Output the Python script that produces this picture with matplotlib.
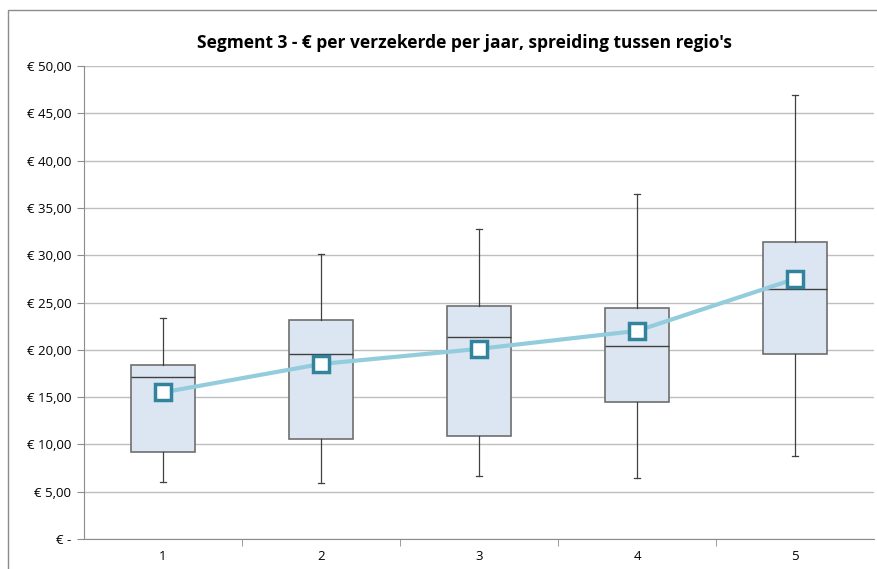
import matplotlib.pyplot as plt
from matplotlib.ticker import FuncFormatter
from matplotlib.patches import Rectangle

plt.rcParams['font.family'] = ['Open Sans', 'DejaVu Sans']

regions = [1, 2, 3, 4, 5]
whisker_low = [6.0, 5.9, 6.7, 6.5, 8.8]
q1 = [9.2, 10.6, 10.9, 14.5, 19.6]
median = [17.1, 19.6, 21.4, 20.4, 26.4]
q3 = [18.4, 23.2, 24.6, 24.4, 31.4]
whisker_high = [23.4, 30.1, 32.8, 36.5, 46.9]
mean = [15.5, 18.5, 20.1, 22.0, 27.5]

fig = plt.figure(figsize=(8.77, 5.69), dpi=100)
ax = fig.add_axes([84/877, 30/569, 790/877, 473/569])

# outer chart border (cropped at right and bottom)
fig.patches.append(Rectangle((8/877, -0.1), 1.0, (559-0)/569 + 0.1 + 0.0, transform=fig.transFigure,
                             fill=False, edgecolor='#8c8c8c', linewidth=1.0))

stats = []
for i in range(len(regions)):
    stats.append(dict(med=median[i], q1=q1[i], q3=q3[i],
                      whislo=whisker_low[i], whishi=whisker_high[i], fliers=[]))

ax.bxp(stats, positions=regions, widths=0.405, capwidths=0.04, patch_artist=True,
       boxprops=dict(facecolor='#dce6f2', edgecolor='#6e6e6e', linewidth=1.2),
       medianprops=dict(color='#404040', linewidth=1.0),
       whiskerprops=dict(color='#404040', linewidth=0.9),
       capprops=dict(color='#404040', linewidth=0.9),
       showfliers=False, zorder=3)

ax.plot(regions, mean, color='#93cddd', linewidth=3, zorder=4,
        marker='s', markersize=11, markerfacecolor='white',
        markeredgecolor='#31849b', markeredgewidth=2.5)

ax.set_xlim(0.5, 5.5)
ax.set_ylim(0, 50)
ax.set_yticks(range(0, 51, 5))
ax.set_xticks(regions)
ax.set_xticks([1.5, 2.5, 3.5, 4.5], minor=True)
ax.set_xticklabels([str(r) for r in regions])


def euro(v, pos):
    if v == 0:
        return '€ -'
    return ('€ %.2f' % v).replace('.', ',')


ax.yaxis.set_major_formatter(FuncFormatter(euro))
ax.grid(axis='y', color='#bfbfbf', linewidth=1.0, zorder=0)
ax.set_axisbelow(True)

for s in ['top', 'right']:
    ax.spines[s].set_visible(False)
for s in ['left', 'bottom']:
    ax.spines[s].set_color('#8c8c8c')
ax.tick_params(axis='y', length=5, color='#8c8c8c', labelsize=9.5, pad=4)
ax.tick_params(axis='x', which='major', length=0, labelsize=9.5, pad=8)
ax.tick_params(axis='x', which='minor', length=5, color='#8c8c8c')

fig.text(0.53, 0.925, "Segment 3 - € per verzekerde per jaar, spreiding tussen regio's",
         ha='center', va='center', fontsize=12.5, fontweight='bold')

fig.savefig('out.png', dpi=100)
